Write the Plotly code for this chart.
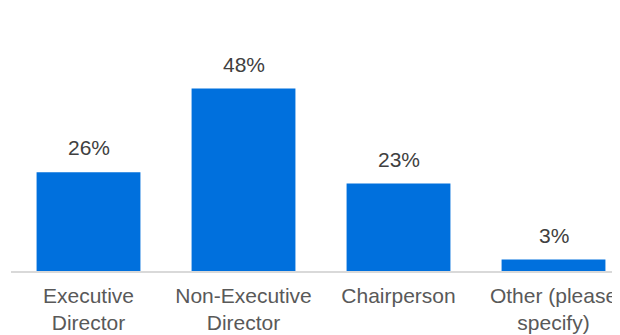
import plotly.graph_objects as go

categories = ["Executive<br>Director", "Non-Executive<br>Director", "Chairperson", "Other (please<br>specify)"]
values = [0.26, 0.48, 0.23, 0.03]
labels = ["26%", "48%", "23%", "3%"]

bar_color = "#0070DD"
text_color = "#595959"
label_color = "#404040"
font_family = "Liberation Sans, Arial, sans-serif"

fig = go.Figure(go.Bar(
    x=categories, y=values, marker=dict(color=bar_color, line=dict(width=0)),
    width=0.67, hoverinfo="skip"))

for c, v, t in zip(categories, values, labels):
    fig.add_annotation(x=c, y=v, text=t, showarrow=False, yanchor="bottom",
                       yshift=11, font=dict(size=21, color=label_color, family=font_family))

# page body has an 8px margin, so the figure is drawn 8px in from the window edge
fig.update_layout(
    width=612, height=327,
    margin=dict(l=3, r=0, t=16, b=64, autoexpand=False),
    plot_bgcolor="white", paper_bgcolor="white",
    showlegend=False,
    font=dict(family=font_family, size=21, color=text_color),
    xaxis=dict(range=[-0.5, 3.429], showline=True, linecolor="#D9D9D9", linewidth=1.5,
               ticks="", showgrid=False, tickfont=dict(size=21, color=text_color),
               ticklabelstandoff=5, automargin=False),
    yaxis=dict(range=[0, 0.65], visible=False, showgrid=False, automargin=False),
)

fig.write_html("out.html")
